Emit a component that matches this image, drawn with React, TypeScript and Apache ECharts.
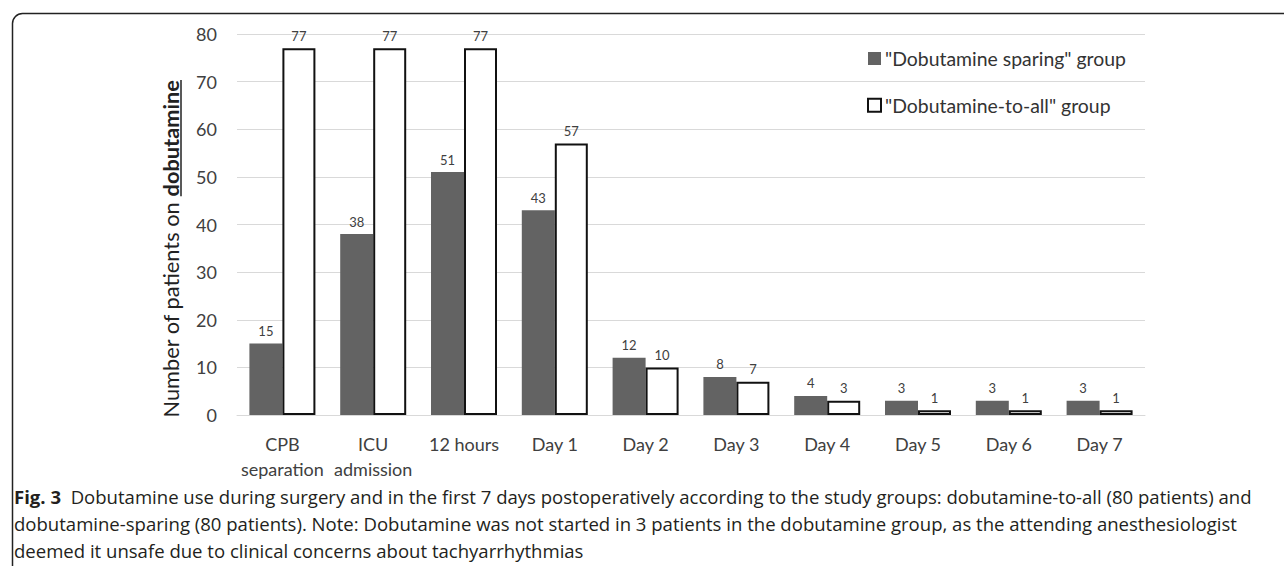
import React, { useEffect, useRef } from "react";
import * as echarts from "echarts";

const categories = ["CPB\nseparation", "ICU\nadmission", "12 hours", "Day 1", "Day 2", "Day 3", "Day 4", "Day 5", "Day 6", "Day 7"];
const sparing = [15, 38, 51, 43, 12, 8, 4, 3, 3, 3];
const toAll = [77, 77, 77, 57, 10, 7, 3, 1, 1, 1];
const seriesNames = ['"Dobutamine sparing" group', '"Dobutamine-to-all" group'];
const yTicks = { min: 0, max: 80, interval: 10 };
const axisNameA = "Number of patients on ";
const axisNameB = "dobutamine";
const captionLabel = "Fig. 3";
const captionLines = [
  "Dobutamine use during surgery and in the first 7 days postoperatively according to the study groups: dobutamine-to-all (80 patients) and",
  "dobutamine-sparing (80 patients). Note: Dobutamine was not started in 3 patients in the dobutamine group, as the attending anesthesiologist",
  "deemed it unsafe due to clinical concerns about tachyarrhythmias",
];

const FONT = "Lato";
const CAPFONT = "'Open Sans'";

function measure(text: string, font: string): number {
  const c = document.createElement("canvas").getContext("2d");
  if (!c) return text.length * 10;
  c.font = font;
  return c.measureText(text).width;
}

export default function App() {
  const ref = useRef<HTMLDivElement>(null);
  useEffect(() => {
    document.body.style.margin = "0";
    if (!ref.current) return;
    const chart = echarts.init(ref.current, null, { renderer: "svg" });

    // y-axis title: fit to the reference length (~338px)
    const nA100 = measure(axisNameA, `100px ${FONT}`);
    const nB100 = measure(axisNameB, `bold 100px ${FONT}`);
    const nameSize = Math.min(22, (338 / (nA100 + nB100)) * 100);
    const wA = (nA100 * nameSize) / 100;
    const wB = (nB100 * nameSize) / 100;
    const W = wA + wB;
    const cx = 171;
    const cy = 249;
    const topY = cy - W / 2;

    // legend font: fit '"Dobutamine sparing" group' to ~241px
    const lg100 = measure(seriesNames[0], `100px ${FONT}`);
    const legendSize = Math.min(21, (241 / lg100) * 100);

    // caption font: fit first line to ~1239px
    const c100 = measure(captionLabel + "  ", `bold 100px ${CAPFONT}`) + measure(captionLines[0], `100px ${CAPFONT}`);
    const capSize = Math.min(20, (1239 / c100) * 100);

    const capGraphics: any[] = captionLines.map((line, i) => ({
      type: "text",
      x: 14,
      y: 496 + i * 27,
      style: {
        text: i === 0 ? `{b|${captionLabel}}  ` + line : line,
        fontFamily: CAPFONT,
        fontSize: capSize,
        fill: "#231f20",
        verticalAlign: "middle",
        rich: { b: { fontWeight: "bold", fontSize: capSize, fontFamily: CAPFONT, fill: "#231f20" } },
      },
    }));

    chart.setOption({
      animation: false,
      backgroundColor: "#fff",
      grid: { left: 237, right: 139, top: 34, bottom: 151 },
      legend: {
        orient: "vertical",
        left: 862,
        top: 44,
        itemGap: 51 - Math.max(13, legendSize * 1.2),
        itemWidth: 13,
        itemHeight: 13,
        icon: "rect",
        textStyle: { fontFamily: FONT, fontSize: legendSize, color: "#333", padding: [0, 0, 0, -1] },
        data: seriesNames,
      },
      xAxis: {
        type: "category",
        data: categories,
        axisLine: { lineStyle: { color: "#d9d9d9", width: 1 } },
        axisTick: { show: false },
        axisLabel: { interval: 0, fontFamily: FONT, fontSize: 18, color: "#404040", lineHeight: 25, margin: 16 },
      },
      yAxis: {
        type: "value",
        min: yTicks.min,
        max: yTicks.max,
        interval: yTicks.interval,
        axisLine: { show: false },
        axisTick: { show: false },
        splitLine: { lineStyle: { color: "#d9d9d9", width: 1 } },
        axisLabel: { fontFamily: FONT, fontSize: 18, color: "#404040", margin: 20 },
      },
      series: [
        {
          name: seriesNames[0],
          type: "bar",
          data: sparing,
          barWidth: 33,
          barGap: "0%",
          itemStyle: { color: "#636363" },
          label: { show: true, position: "top", distance: 6, fontFamily: FONT, fontSize: 13, color: "#404040" },
        },
        {
          name: seriesNames[1],
          type: "bar",
          data: toAll,
          barWidth: 33,
          barGap: "0%",
          itemStyle: { color: "#ffffff", borderColor: "#111", borderWidth: 2 },
          label: { show: true, position: "top", distance: 6, fontFamily: FONT, fontSize: 13, color: "#404040" },
        },
      ],
      graphic: [
        {
          type: "rect",
          left: 10,
          top: 11,
          shape: { width: 1320, height: 620, r: 10 },
          style: { fill: "none", stroke: "#222", lineWidth: 1.5 },
          silent: true,
        },
        {
          type: "text",
          x: cx,
          y: cy,
          rotation: Math.PI / 2,
          style: {
            text: `{a|${axisNameA}}{b|${axisNameB}}`,
            align: "center",
            verticalAlign: "middle",
            rich: {
              a: { fontFamily: FONT, fontSize: nameSize, fill: "#222" },
              b: { fontFamily: FONT, fontSize: nameSize, fontWeight: "bold", fill: "#222" },
            },
          },
        },
        {
          type: "line",
          shape: { x1: 181, y1: topY, x2: 181, y2: topY + wB },
          style: { stroke: "#222", lineWidth: 1.5 },
        },
        ...capGraphics,
      ],
    });
    return () => chart.dispose();
  }, []);
  return <div ref={ref} style={{ width: 1284, height: 566 }} />;
}
